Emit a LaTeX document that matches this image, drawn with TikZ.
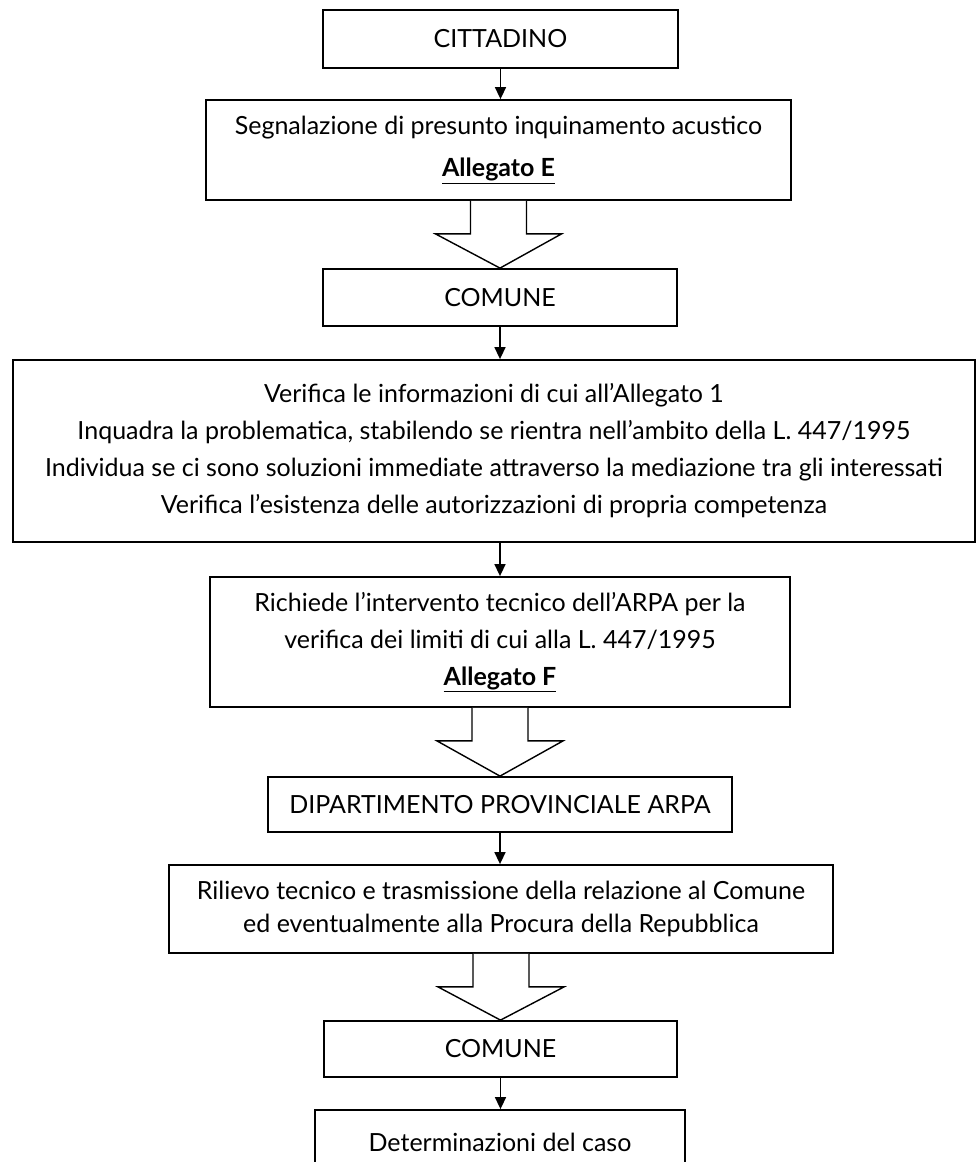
\documentclass[tikz,border=0pt]{standalone}
\usepackage{fontspec}
\setmainfont{Lato}
\usetikzlibrary{arrows.meta,calc}
\newcommand\blockarr[2]{%
  \draw[bigarrow] ($(#1.south)+(-28,0)$) -- ++(0,33) -- ++(-35,0) -- (#2.north)
    -- ($(#1.south)+(63,33)$) -- ++(-35,0) -- ++(0,-33);}
\begin{document}
\begin{tikzpicture}[x=1pt,y=-1pt,
  box/.style={draw,line width=1.8pt,rectangle,inner sep=0pt,align=center,
    font=\fontsize{25}{37}\selectfont},
  conn/.style={line width=1.5pt,-{Triangle[length=12pt,width=11pt]}},
  bigarrow/.style={draw,line width=1.4pt,fill=white,line join=miter}]
\useasboundingbox[fill=white] (0,0) rectangle (977,1162);

\node[box,minimum width=355,minimum height=58] (cit) at (500.5,39) {CITTADINO};
\node[box,minimum width=585,minimum height=100] (seg) at (498.5,150)
  {Segnalazione di presunto inquinamento acustico\\[5pt]\underline{\textbf{Allegato E}}};
\node[box,minimum width=354,minimum height=57] (com1) at (500,297.5) {COMUNE};
\node[box,minimum width=962,minimum height=182] (ver) at (494,451)
  {Verifica le informazioni di cui all’Allegato 1\\
   Inquadra la problematica, stabilendo se rientra nell’ambito della L. 447/1995\\
   Individua se ci sono soluzioni immediate attraverso la mediazione tra gli interessati\\
   Verifica l’esistenza delle autorizzazioni di propria competenza};
\node[box,minimum width=580,minimum height=130] (ric) at (500,642)
  {Richiede l’intervento tecnico dell’ARPA per la\\
   verifica dei limiti di cui alla L. 447/1995\\
   \underline{\textbf{Allegato F}}};
\node[box,minimum width=464,minimum height=55] (dip) at (500,804.5) {DIPARTIMENTO PROVINCIALE ARPA};
\node[box,minimum width=664,minimum height=88] (ril) at (501,909)
  {Rilievo tecnico e trasmissione della relazione al Comune\\[-4pt]
   ed eventualmente alla Procura della Repubblica};
\node[box,minimum width=353,minimum height=56] (com2) at (500.5,1049) {COMUNE};
\node[box,minimum width=370,minimum height=64] (det) at (500,1142) {Determinazioni del caso};

\draw[conn] (cit.south) -- (cit.south |- seg.north);
\blockarr{seg}{com1}
\draw[conn] (com1.south) -- (com1.south |- ver.north);
\draw[conn] (ver.south -| ric.north) -- (ric.north);
\blockarr{ric}{dip}
\draw[conn] (dip.south) -- (dip.south |- ril.north);
\blockarr{ril}{com2}
\draw[conn] (com2.south) -- (com2.south |- det.north);
\end{tikzpicture}
\end{document}
